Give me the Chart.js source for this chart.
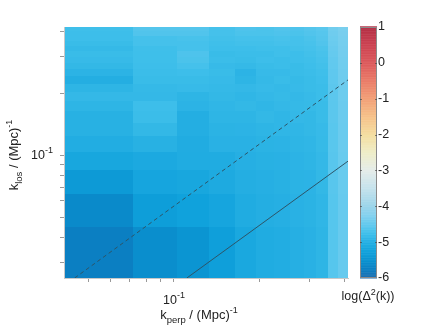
<!DOCTYPE html>
<html>
<head>
<meta charset="utf-8">
<script src="https://cdn.jsdelivr.net/npm/chart.js@4"></script>
<style>
  body { margin: 0; background: #fff; }
</style>
</head>
<body>
<canvas id="myChart" width="436" height="329"></canvas>
<script>
// bin edges of the 2D power spectrum (Mpc^-1)
const kPerpEdges = [0.041, 0.0717, 0.1024, 0.1331, 0.1638, 0.1945, 0.2252, 0.2559, 0.2866, 0.3173, 0.348, 0.3787, 0.41];
const kLosEdges = [0.0253, 0.045, 0.0647, 0.0844, 0.1041, 0.1238, 0.1435, 0.1632, 0.1829, 0.2026, 0.2223,
                   0.242, 0.2617, 0.2814, 0.3011, 0.3208, 0.3405, 0.3602, 0.3799, 0.3996, 0.4193];

// tick marks on the axes
const kPerpTicks = [0.05, 0.06, 0.07, 0.08, 0.09, 0.1, 0.2, 0.3, 0.4];
const kLosTicks = [0.03, 0.04, 0.05, 0.06, 0.07, 0.08, 0.09, 0.1, 0.2, 0.3, 0.4];

// log(Delta^2(k)), one row per k_los bin, bottom row first
const logDelta2 = [
  [-5.75, -5.55, -5.45, -5.30, -5.12, -5.05, -5.02, -4.98, -4.95, -4.90, -4.58, -4.46],
  [-5.60, -5.32, -5.25, -5.18, -5.05, -5.00, -4.98, -4.95, -4.93, -4.88, -4.58, -4.46],
  [-5.38, -5.18, -5.15, -5.08, -5.00, -4.98, -4.96, -4.93, -4.92, -4.86, -4.57, -4.45],
  [-5.15, -5.10, -5.05, -5.05, -4.98, -4.96, -4.95, -4.92, -4.90, -4.85, -4.57, -4.45],
  [-5.02, -4.96, -5.04, -4.95, -4.95, -4.93, -4.92, -4.90, -4.88, -4.83, -4.56, -4.44],
  [-4.96, -4.86, -5.00, -4.93, -4.92, -4.90, -4.88, -4.88, -4.86, -4.82, -4.56, -4.44],
  [-4.96, -4.78, -5.00, -4.90, -4.90, -4.86, -4.88, -4.85, -4.86, -4.80, -4.55, -4.43],
  [-4.90, -4.76, -4.92, -4.88, -4.86, -4.88, -4.85, -4.84, -4.83, -4.80, -4.55, -4.43],
  [-4.85, -4.85, -4.90, -4.86, -4.88, -4.85, -4.83, -4.85, -4.82, -4.78, -4.54, -4.42],
  [-4.90, -4.84, -4.82, -4.84, -4.85, -4.82, -4.84, -4.82, -4.80, -4.78, -4.54, -4.42],
  [-5.00, -4.80, -4.80, -4.82, -4.90, -4.84, -4.80, -4.83, -4.80, -4.76, -4.53, -4.41],
  [-4.92, -4.78, -4.76, -4.80, -4.92, -4.82, -4.82, -4.80, -4.78, -4.74, -4.52, -4.40],
  [-4.86, -4.76, -4.70, -4.82, -4.84, -4.80, -4.78, -4.80, -4.76, -4.72, -4.51, -4.39],
  [-4.82, -4.75, -4.66, -4.78, -4.80, -4.76, -4.78, -4.76, -4.74, -4.70, -4.50, -4.38],
  [-4.80, -4.75, -4.64, -4.80, -4.78, -4.78, -4.74, -4.76, -4.72, -4.68, -4.48, -4.37],
  [-4.84, -4.74, -4.70, -4.76, -4.76, -4.74, -4.74, -4.72, -4.70, -4.66, -4.46, -4.36],
  [-4.80, -4.70, -4.70, -4.74, -4.72, -4.72, -4.70, -4.70, -4.68, -4.62, -4.44, -4.35],
  [-4.76, -4.70, -4.68, -4.72, -4.70, -4.70, -4.68, -4.70, -4.66, -4.60, -4.42, -4.34],
  [-4.76, -4.62, -4.62, -4.70, -4.66, -4.66, -4.64, -4.66, -4.62, -4.58, -4.40, -4.33],
  [-4.74, -4.60, -4.60, -4.70, -4.64, -4.66, -4.62, -4.64, -4.60, -4.56, -4.38, -4.32]
];

// wedge lines (k_perp, k_los) end points
const dashedLine = [{x: 0.0447, y: 0.0253}, {x: 0.41, y: 0.232}];
const solidLine = [{x: 0.111, y: 0.0253}, {x: 0.41, y: 0.0935}];

// colour map stops
const cmapValues = [-6, -5.75, -5.5, -5.25, -5, -4.75, -4.5, -4.25, -4, -3.5, -3, -2.5, -2, -1.5, -1, -0.5, 0, 0.5, 1];
const cmapColors = ['#1f6db0', '#0b7fc2', '#0a92d0', '#10a2dc', '#24aee2', '#3ebfea', '#62c9ee', '#82d1ee', '#9ad4ea',
                    '#c4e2ec', '#e4ecea', '#eeedc8', '#f4dea0', '#f6c28a', '#f2a077', '#ea7c68', '#dc5a5c', '#cc4352', '#b32f45'];

function hexRgb(h) {
    return [parseInt(h.slice(1, 3), 16), parseInt(h.slice(3, 5), 16), parseInt(h.slice(5, 7), 16)];
}

function colormap(v) {
    if (v <= cmapValues[0]) return cmapColors[0];
    for (let i = 1; i < cmapValues.length; i++) {
        if (v <= cmapValues[i]) {
            const t = (v - cmapValues[i - 1]) / (cmapValues[i] - cmapValues[i - 1]);
            const a = hexRgb(cmapColors[i - 1]), b = hexRgb(cmapColors[i]);
            const c = a.map((x, j) => Math.round(x + (b[j] - x) * t));
            return 'rgb(' + c.join(',') + ')';
        }
    }
    return cmapColors[cmapColors.length - 1];
}

const FONT = '"Liberation Sans", Arial, sans-serif';
const TEXT = '#222';

// draws text pieces with sub/superscripts, parts: [text, size, dy]
function drawRich(ctx, parts, x, y, align) {
    let total = 0;
    parts.forEach(p => { ctx.font = p[1] + 'px ' + FONT; total += ctx.measureText(p[0]).width; });
    let cx = align === 'center' ? x - total / 2 : (align === 'right' ? x - total : x);
    ctx.textAlign = 'left';
    ctx.textBaseline = 'alphabetic';
    ctx.fillStyle = TEXT;
    parts.forEach(p => {
        ctx.font = p[1] + 'px ' + FONT;
        ctx.fillText(p[0], cx, y + p[2]);
        cx += ctx.measureText(p[0]).width;
    });
}

const heatmap = {
    id: 'heatmap',
    beforeDraw(chart) {
        const {ctx, scales: {x, y}} = chart;
        ctx.save();
        for (let r = 0; r < logDelta2.length; r++) {
            for (let c = 0; c < logDelta2[r].length; c++) {
                const x0 = Math.round(x.getPixelForValue(kPerpEdges[c]));
                const x1 = Math.round(x.getPixelForValue(kPerpEdges[c + 1]));
                const y0 = Math.round(y.getPixelForValue(kLosEdges[r]));
                const y1 = Math.round(y.getPixelForValue(kLosEdges[r + 1]));
                ctx.fillStyle = colormap(logDelta2[r][c]);
                ctx.fillRect(x0, y1, x1 - x0, y0 - y1);
            }
        }
        ctx.restore();
    },
    afterDraw(chart) {
        const {ctx, scales: {x, y, cb}} = chart;
        ctx.save();
        // colour bar
        const bx0 = cb.left + 12, bx1 = cb.left + 29;
        for (let v = -6; v < 1; v += 0.02) {
            const p0 = cb.getPixelForValue(v), p1 = cb.getPixelForValue(v + 0.02);
            ctx.fillStyle = colormap(v + 0.01);
            ctx.fillRect(bx0, p1, bx1 - bx0, p0 - p1 + 0.5);
        }
        ctx.strokeStyle = '#8a8a8a';
        ctx.lineWidth = 1;
        ctx.strokeRect(bx0 + 0.5, cb.top + 0.5, bx1 - bx0 - 1, cb.bottom - cb.top - 1);
        ctx.strokeStyle = 'rgba(60,60,60,0.6)';
        for (let v = -5; v <= 0; v++) {
            const p = Math.round(cb.getPixelForValue(v)) + 0.5;
            ctx.beginPath();
            ctx.moveTo(bx0, p); ctx.lineTo(bx0 + 2, p);
            ctx.moveTo(bx1 - 2, p); ctx.lineTo(bx1, p);
            ctx.stroke();
        }
        drawRich(ctx, [['log(\u0394', 12.5, 0], ['2', 9, -5], ['(k))', 12.5, 0]], cb.left + 20, 300, 'center');

        // tick labels for the decade
        const px = x.getPixelForValue(0.1);
        drawRich(ctx, [['10', 12.5, 0], ['-1', 9, -6]], px, 304, 'center');
        const py = y.getPixelForValue(0.1);
        drawRich(ctx, [['10', 12.5, 0], ['-1', 9, -6]], x.left - 11, py + 4, 'right');

        // axis titles
        drawRich(ctx, [['k', 13, 0], ['perp', 9.5, 4], [' / (Mpc)', 13, 0], ['-1', 9, -6]], 199, 319, 'center');
        ctx.translate(18, 155);
        ctx.rotate(-Math.PI / 2);
        drawRich(ctx, [['k', 13, 0], ['los', 9.5, 4], [' / (Mpc)', 13, 0], ['-1', 9, -6]], 0, 0, 'center');
        ctx.restore();
    }
};

const ctx = document.getElementById('myChart');
new Chart(ctx, {
    type: 'scatter',
    data: {
        datasets: [{
            data: dashedLine,
            showLine: true,
            borderColor: '#2d5568',
            borderWidth: 1,
            borderDash: [4, 3],
            pointRadius: 0
        }, {
            data: solidLine,
            showLine: true,
            borderColor: '#2d5568',
            borderWidth: 1,
            pointRadius: 0
        }]
    },
    options: {
        responsive: false,
        animation: false,
        layout: { padding: { top: 27, left: 0, right: 0, bottom: 0 } },
        plugins: { legend: { display: false }, tooltip: { enabled: false } },
        scales: {
            x: {
                type: 'logarithmic',
                min: kPerpEdges[0],
                max: kPerpEdges[kPerpEdges.length - 1],
                afterBuildTicks: s => { s.ticks = kPerpTicks.map(v => ({value: v})); },
                afterFit: s => { s.height = 51; },
                ticks: { display: false },
                grid: { drawOnChartArea: false, tickLength: 4, color: '#999' },
                border: { color: '#c8c8c8' }
            },
            y: {
                type: 'logarithmic',
                min: kLosEdges[0],
                max: kLosEdges[kLosEdges.length - 1],
                afterBuildTicks: s => { s.ticks = kLosTicks.map(v => ({value: v})); },
                afterFit: s => { s.width = 64; },
                ticks: { display: false },
                grid: { drawOnChartArea: false, tickLength: 4, color: '#999' },
                border: { color: '#c8c8c8' }
            },
            cb: {
                type: 'linear',
                position: 'right',
                min: -6,
                max: 1,
                afterFit: s => { s.width = 88; },
                ticks: { stepSize: 1, padding: 3, color: TEXT, font: { family: FONT, size: 12.5 } },
                // invisible tick marks just push the labels past the colour bar
                grid: { drawOnChartArea: false, tickLength: 27, color: 'rgba(0,0,0,0)' },
                border: { display: false }
            }
        }
    },
    plugins: [heatmap]
});
</script>
</body>
</html>
